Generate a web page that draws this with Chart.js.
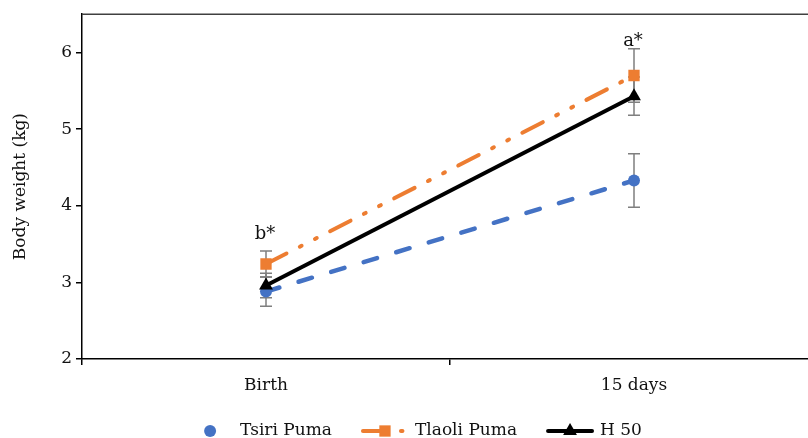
<!DOCTYPE html>
<html>
<head>
<meta charset="utf-8">
<script src="https://cdn.jsdelivr.net/npm/chart.js@4/dist/chart.umd.min.js"></script>
<style>
html,body{margin:0;padding:0;background:#fff;overflow:hidden;width:808px;height:438px;}
#wrap{width:830px;height:438px;position:relative;}
</style>
</head>
<body>
<div id="wrap"><canvas id="c" width="830" height="438"></canvas></div>
<script>
const categories = ['Birth', '15 days'];
const tsiriPuma = [2.88, 4.33];
const tsiriErr = [0.19, 0.35];
const tlaoliPuma = [3.24, 5.70];
const tlaoliErr = [0.17, 0.35];
const h50 = [2.96, 5.43];
const h50Err = [0.16, 0.25];
const sigLabels = ['b*', 'a*'];
const yTicks = [2, 3, 4, 5, 6];

const FONT = 'DejaVu Serif';

const errorBars = {
  id: 'errorBars',
  beforeDatasetsDraw(chart) {
    const ctx = chart.ctx;
    const ys = chart.scales.y;
    ctx.save();
    ctx.strokeStyle = '#7f7f7f';
    ctx.lineWidth = 1.5;
    chart.data.datasets.forEach((ds, i) => {
      const meta = chart.getDatasetMeta(i);
      meta.data.forEach((pt, j) => {
        const v = ds.data[j], e = ds.err[j];
        const y1 = ys.getPixelForValue(v + e), y2 = ys.getPixelForValue(v - e);
        const x = pt.x;
        ctx.beginPath();
        ctx.moveTo(x, y1); ctx.lineTo(x, y2);
        ctx.moveTo(x - 6, y1); ctx.lineTo(x + 6, y1);
        ctx.moveTo(x - 6, y2); ctx.lineTo(x + 6, y2);
        ctx.stroke();
      });
    });
    ctx.restore();
  },
  afterDraw(chart, args, opts) {
    const ctx = chart.ctx;
    const a = chart.chartArea;
    const xs = chart.scales.x, ys = chart.scales.y;
    ctx.save();
    // top border
    ctx.strokeStyle = '#404040';
    ctx.lineWidth = 1.5;
    ctx.beginPath();
    ctx.moveTo(a.left, a.top); ctx.lineTo(a.right, a.top); ctx.lineTo(a.right, a.bottom);
    ctx.stroke();
    // significance labels
    ctx.fillStyle = '#111';
    ctx.font = '18px "' + FONT + '"';
    ctx.textAlign = 'center';
    ctx.textBaseline = 'alphabetic';
    sigLabels.forEach((t, j) => {
      ctx.fillText(t, xs.getPixelForValue(j) - 1, ys.getPixelForValue(opts.labelY[j]));
    });
    // legend
    ctx.font = '17px "' + FONT + '"';
    ctx.textAlign = 'left';
    ctx.textBaseline = 'middle';
    const lineLen = 48, gapText = 6, gapItem = 29;
    const ds = chart.data.datasets;
    let total = 0;
    ds.forEach((d, i) => { total += lineLen + gapText + ctx.measureText(d.label).width + (i < ds.length - 1 ? gapItem : 0); });
    let x = 414 - total / 2;
    const y = 431;
    ds.forEach((d, i) => {
      const cx = x + lineLen / 2;
      if (i > 0) {
        ctx.save();
        ctx.strokeStyle = d.borderColor;
        ctx.lineWidth = d.borderWidth;
        ctx.lineCap = 'round';
        ctx.setLineDash(i === 1 ? [22, 16, 1.5, 16] : []);
        ctx.beginPath();
        ctx.moveTo(x + 2, y); ctx.lineTo(x + lineLen - 2, y);
        ctx.stroke();
        ctx.restore();
      }
      ctx.fillStyle = d.pointBackgroundColor;
      ctx.beginPath();
      if (d.pointStyle === 'circle') ctx.arc(cx, y, d.pointRadius, 0, Math.PI * 2);
      else if (d.pointStyle === 'rect') { const s = d.pointRadius * Math.SQRT1_2; ctx.rect(cx - s, y - s, 2 * s, 2 * s); }
      else { const r = d.pointRadius; ctx.moveTo(cx, y - r); ctx.lineTo(cx + r * 0.866, y + r * 0.5); ctx.lineTo(cx - r * 0.866, y + r * 0.5); ctx.closePath(); }
      ctx.fill();
      ctx.fillStyle = '#111';
      const tx = x + lineLen + gapText;
      ctx.fillText(d.label, tx, y);
      x = tx + ctx.measureText(d.label).width + gapItem;
    });
    ctx.restore();
  }
};

new Chart(document.getElementById('c'), {
  type: 'line',
  data: {
    labels: categories,
    datasets: [
      {label: 'Tsiri Puma', data: tsiriPuma, err: tsiriErr, borderColor: '#4472C4', backgroundColor: '#4472C4',
       pointBackgroundColor: '#4472C4', pointBorderColor: '#4472C4', borderWidth: 4.5, borderDash: [14, 20],
       borderCapStyle: 'round', pointStyle: 'circle', pointRadius: 6, pointBorderWidth: 0, order: 3},
      {label: 'Tlaoli Puma', data: tlaoliPuma, err: tlaoliErr, borderColor: '#ED7D31', backgroundColor: '#ED7D31',
       pointBackgroundColor: '#ED7D31', pointBorderColor: '#ED7D31', borderWidth: 4, borderDash: [23, 15, 2, 15, 2, 15],
       borderCapStyle: 'round', pointStyle: 'rect', pointRadius: 8, pointBorderWidth: 0, order: 2},
      {label: 'H 50', data: h50, err: h50Err, borderColor: '#000', backgroundColor: '#000',
       pointBackgroundColor: '#000', pointBorderColor: '#000', borderWidth: 4,
       pointStyle: 'triangle', pointRadius: 8, pointBorderWidth: 0, order: 1}
    ]
  },
  options: {
    responsive: false,
    animation: false,
    layout: {padding: {top: 11, right: 12, left: 0, bottom: 0}},
    plugins: {
      legend: {display: false},
      tooltip: {enabled: false},
      errorBars: {labelY: [3.56, 6.09]}
    },
    scales: {
      x: {
        offset: true,
        grid: {offset: true, drawOnChartArea: false, drawTicks: true, tickLength: 6, color: '#000', lineWidth: 1.5},
        border: {color: '#000', width: 1.5},
        ticks: {color: '#111', font: {family: FONT, size: 17}, padding: 10},
        afterFit(s) { s.height = 79; }
      },
      y: {
        min: 2, max: 6.5,
        afterBuildTicks(s) { s.ticks = yTicks.map(v => ({value: v})); },
        grid: {drawOnChartArea: false, drawTicks: true, tickLength: 6, color: '#000', lineWidth: 1.5},
        border: {color: '#000', width: 1.5},
        ticks: {color: '#111', font: {family: FONT, size: 17}, padding: 4},
        title: {display: true, text: 'Body weight (kg)', color: '#111', font: {family: FONT, size: 17}, padding: {top: 10, bottom: 0}},
        afterFit(s) { s.width = 82; }
      }
    }
  },
  plugins: [errorBars]
});
</script>
</body>
</html>
